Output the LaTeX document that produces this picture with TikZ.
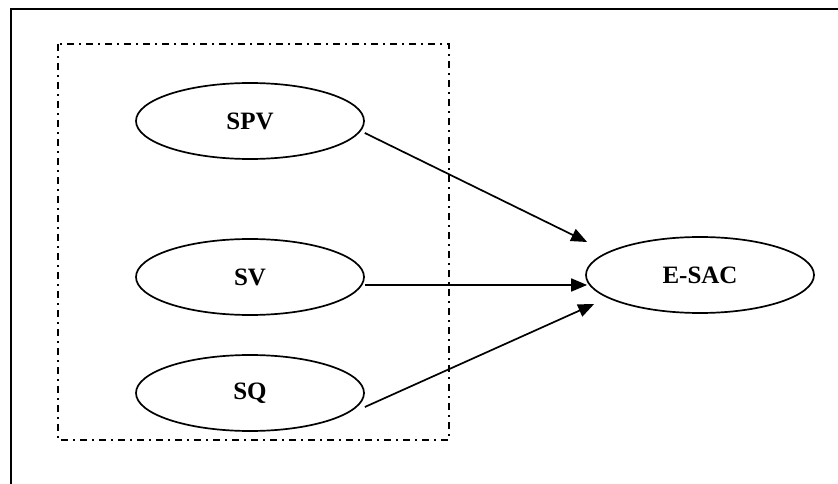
\documentclass[tikz,border=0pt]{standalone}
\usepackage{fontspec}
\setmainfont{Liberation Serif}
\usetikzlibrary{shapes.geometric,arrows.meta}
\begin{document}
\begin{tikzpicture}[x=1pt,y=-1pt]
% Styles
\tikzstyle{cadre}=[line width=1.8pt]
\tikzstyle{groupe}=[line width=1.7pt,dash pattern=on 7pt off 5pt on 2pt off 5pt]
\tikzstyle{bulle}=[ellipse,draw,line width=1.7pt,minimum width=228pt,minimum height=76pt,inner sep=0pt,font=\fontsize{25}{30}\selectfont\bfseries]
\tikzstyle{fleche}=[-{Triangle[length=16pt,width=13pt]},line width=1.7pt]
% Dimensions
\def\Lrg{838}
\def\Htr{484}
\useasboundingbox (0,0) rectangle (\Lrg,\Htr);
% Encadrement (haut et gauche seulement)
\draw[cadre] (11,\Htr) -- (11,9) -- (\Lrg,9);
% Bloc des variables
\draw[groupe] (58,44) rectangle (449,440);
% Variables
\node[bulle] (spv) at (250,121) {SPV};
\node[bulle] (sv) at (250,277) {SV};
\node[bulle] (sq) at (250,393) {SQ};
\node[bulle] (esac) at (700,275) {E-SAC};
% Fleches
\draw[fleche] ([yshift=-12pt]spv.east) -- ([xshift=2pt,yshift=33pt]esac.west);
\draw[fleche] ([yshift=-8pt]sv.east) -- ([xshift=2pt,yshift=-10pt]esac.west);
\draw[fleche] ([yshift=-14pt]sq.east) -- ([xshift=9pt,yshift=-29pt]esac.west);
\end{tikzpicture}
\end{document}
